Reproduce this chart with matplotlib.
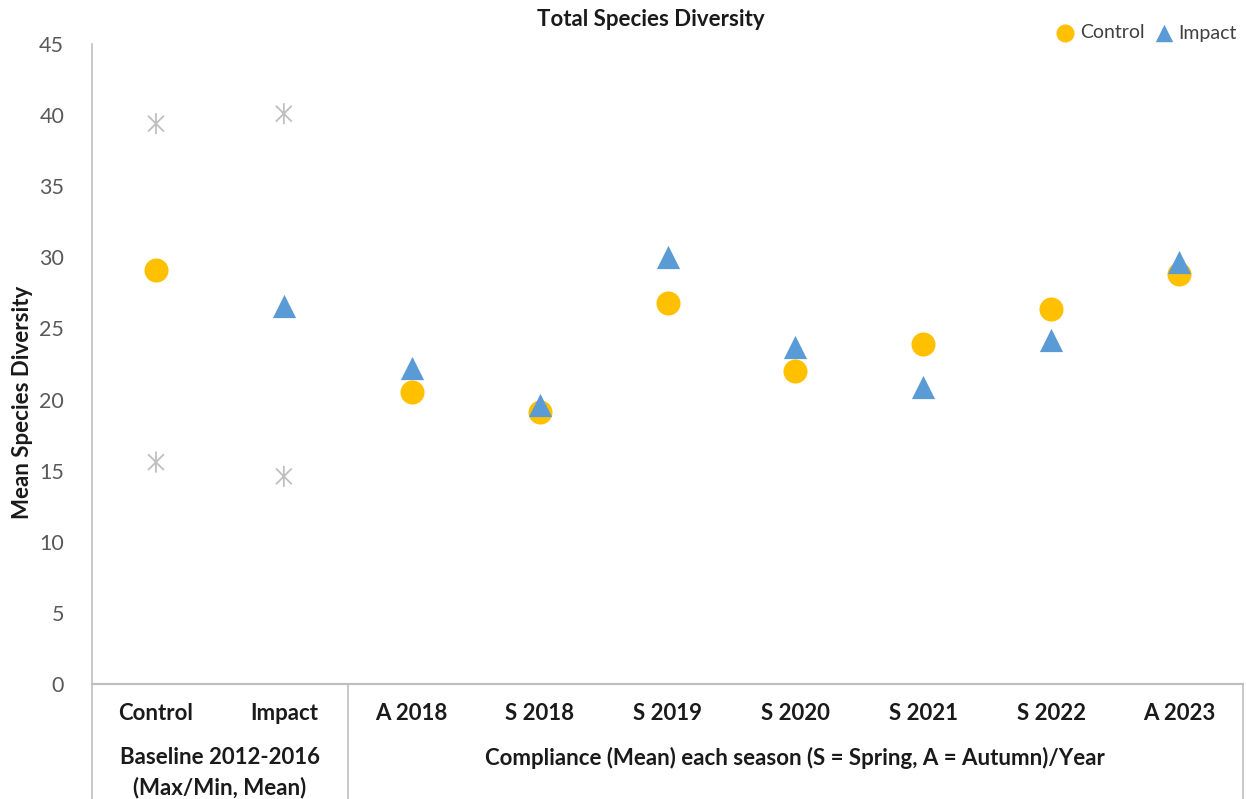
import matplotlib
matplotlib.use("Agg")
import matplotlib.pyplot as plt
from matplotlib.path import Path
from matplotlib.lines import Line2D
from matplotlib.transforms import blended_transform_factory

plt.rcParams['font.family'] = ['Lato', 'DejaVu Sans']

# Data
categories = ["Control", "Impact", "A 2018", "S 2018", "S 2019", "S 2020", "S 2021", "S 2022", "A 2023"]
group_labels = ["Baseline 2012-2016\n(Max/Min, Mean)",
                "Compliance (Mean) each season (S = Spring, A = Autumn)/Year"]
group_sizes = [2, 7]

control_x = [0, 2, 3, 4, 5, 6, 7, 8]
control_mean = [29.1, 20.5, 19.1, 26.8, 22.0, 23.9, 26.4, 28.8]
impact_x = [1, 2, 3, 4, 5, 6, 7, 8]
impact_mean = [26.6, 22.2, 19.6, 30.0, 23.7, 20.9, 24.2, 29.7]

baseline_x = [0, 1]
baseline_max = [39.4, 40.1]
baseline_min = [15.6, 14.6]

W, H = 1246, 799
fig = plt.figure(figsize=(W / 100, H / 100), dpi=100)
ax = fig.add_axes([92 / W, (H - 684) / H, (1243 - 92) / W, (684 - 44) / H])

gold = "#FFC000"
blue = "#5B9BD5"
grey = "#BFBFBF"
axis_grey = "#BFBFBF"
text_dark = "#1a1a1a"

# Asterisk marker: vertical stroke plus an X
star = Path([(0, -1), (0, 1), (-0.75, -0.75), (0.75, 0.75), (-0.75, 0.75), (0.75, -0.75)],
            [Path.MOVETO, Path.LINETO, Path.MOVETO, Path.LINETO, Path.MOVETO, Path.LINETO])

ax.scatter(baseline_x, baseline_max, marker=star, s=230, facecolors="none",
           edgecolors=grey, linewidths=1.3, zorder=3)
ax.scatter(baseline_x, baseline_min, marker=star, s=230, facecolors="none",
           edgecolors=grey, linewidths=1.3, zorder=3)
ax.scatter(control_x, control_mean, marker="o", s=300, color=gold, linewidths=0,
           zorder=4, label="Control")
ax.scatter(impact_x, impact_mean, marker="^", s=280, color=blue, linewidths=0,
           zorder=5, label="Impact")

ax.set_xlim(-0.5, len(categories) - 0.5)
ax.set_ylim(0, 45)
ax.set_yticks(range(0, 46, 5))
ax.tick_params(axis="y", length=0, pad=20, labelsize=15.5, labelcolor="#595959")
ax.set_xticks([])

for side in ("top", "right"):
    ax.spines[side].set_visible(False)
ax.spines["left"].set_color(axis_grey)
ax.spines["bottom"].set_color(axis_grey)
ax.spines["left"].set_linewidth(1.2)
ax.spines["bottom"].set_linewidth(1.5)

# Multi-level category axis below the plot
trans = blended_transform_factory(ax.transData, ax.transAxes)
axes_h = (684 - 44)
def ay(px):
    # figure pixel row -> axes fraction
    return (684 - px) / axes_h

for i, c in enumerate(categories):
    ax.text(i, ay(713), c, transform=trans, ha="center", va="center",
            fontsize=16, fontweight="bold", color=text_dark)

bounds = [-0.5]
for n in group_sizes:
    bounds.append(bounds[-1] + n)
for k, lab in enumerate(group_labels):
    mid = (bounds[k] + bounds[k + 1]) / 2
    ax.text(mid, ay(747), lab, transform=trans, ha="center", va="top",
            fontsize=16, fontweight="bold", color=text_dark, linespacing=1.5)

for b in bounds:
    ax.add_line(Line2D([b, b], [0, ay(H)], transform=trans, color=axis_grey,
                       linewidth=1.2, clip_on=False))
ax.add_line(Line2D([bounds[0], bounds[-1]], [0, 0], transform=trans, color=axis_grey,
                   linewidth=1.5, clip_on=False))

ax.set_ylabel("Mean Species Diversity", fontsize=16, fontweight="bold", color=text_dark)
ax.yaxis.set_label_coords(33 / W, 1 - 402 / H, transform=fig.transFigure)

fig.text(651 / W, 1 - 20 / H, "Total Species Diversity", ha="center", va="center",
         fontsize=16, fontweight="bold", color=text_dark)

leg = fig.legend(loc="center right", bbox_to_anchor=(1237 / W, 1 - 33 / H), ncol=2,
                 frameon=False, fontsize=14, handlelength=1.0, handletextpad=0.25,
                 columnspacing=0.5, markerscale=0.75, borderaxespad=0, borderpad=0)
for t in leg.get_texts():
    t.set_color("#404040")

fig.savefig("out.png", dpi=100)
